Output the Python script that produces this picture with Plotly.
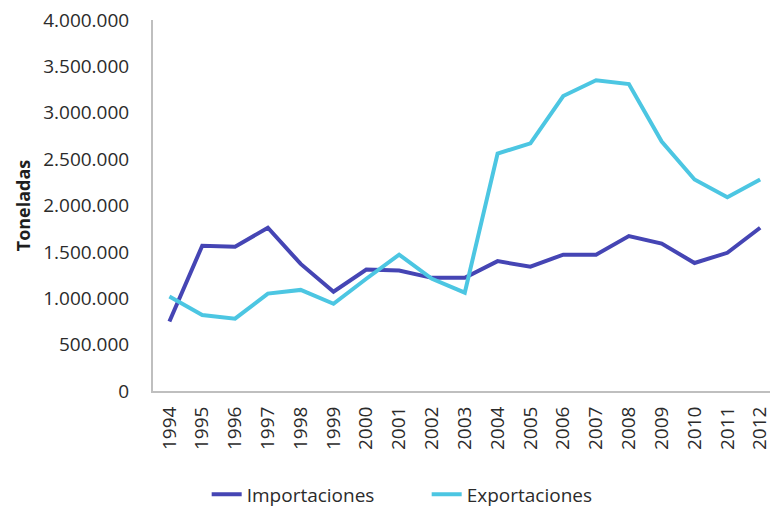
import plotly.graph_objects as go

# Annual tonnage, 1994-2012
years = [str(y) for y in range(1994, 2013)]
importaciones = [750000, 1566000, 1555000, 1760000, 1370000, 1070000, 1310000, 1300000,
                 1220000, 1220000, 1400000, 1340000, 1470000, 1470000, 1670000, 1590000,
                 1380000, 1490000, 1760000]
exportaciones = [1020000, 820000, 780000, 1050000, 1090000, 940000, 1210000, 1470000,
                 1210000, 1060000, 2560000, 2670000, 3180000, 3350000, 3310000, 2690000,
                 2280000, 2090000, 2280000]
y_ticks = [0, 500000, 1000000, 1500000, 2000000, 2500000, 3000000, 3500000, 4000000]
y_tick_text = ["0", "500.000", "1.000.000", "1.500.000", "2.000.000", "2.500.000",
               "3.000.000", "3.500.000", "4.000.000"]

FONT = "Open Sans"
TXT = "#2b2b2b"

fig = go.Figure()
fig.add_trace(go.Scatter(x=years, y=importaciones, mode="lines", name="Importaciones",
                         line=dict(color="#4545B4", width=4)))
fig.add_trace(go.Scatter(x=years, y=exportaciones, mode="lines", name="Exportaciones",
                         line=dict(color="#4CC6E2", width=4)))

fig.update_layout(
    width=772, height=514,
    margin=dict(l=153, r=0, t=20, b=121),
    plot_bgcolor="white", paper_bgcolor="white",
    font=dict(family=FONT, size=19, color=TXT),
    showlegend=True,
    legend=dict(orientation="h", x=0.087, xanchor="left", y=-0.279, yanchor="middle",
                font=dict(family=FONT, size=19, color=TXT),
                entrywidth=175, entrywidthmode="pixels", bgcolor="rgba(0,0,0,0)"),
)
fig.update_xaxes(
    type="category", range=[-0.5, 18.3],
    tickangle=-90, tickfont=dict(family=FONT, size=19, color=TXT),
    showgrid=False, zeroline=False,
    showline=True, linecolor="#bfbfbf", linewidth=2,
    ticks="", ticklabelstandoff=6,
)
fig.update_yaxes(
    range=[0, 4000000], tickvals=y_ticks, ticktext=y_tick_text,
    tickfont=dict(family=FONT, size=19, color=TXT),
    showgrid=False, zeroline=False,
    showline=True, linecolor="#bfbfbf", linewidth=2,
    ticks="", ticklabelstandoff=18,
    title=dict(text="<b>Toneladas</b>", font=dict(family=FONT, size=18, color="#1e1e1e"),
               standoff=8),
)

fig.write_html("out.html")
